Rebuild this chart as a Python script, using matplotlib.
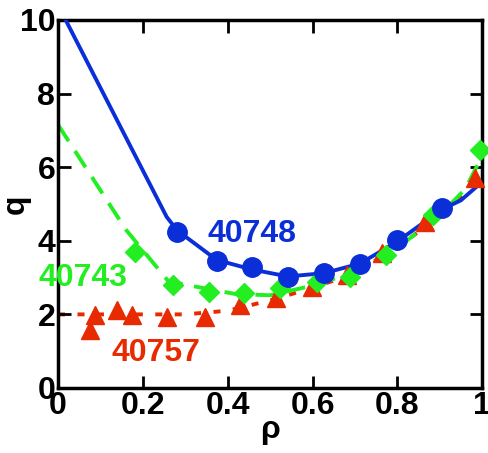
import matplotlib
matplotlib.use("Agg")
from matplotlib import pyplot as plt

# shot 40748 (blue)
x_40748 = [0.281, 0.374, 0.457, 0.542, 0.627, 0.712, 0.800, 0.905]
q_40748 = [4.23, 3.46, 3.28, 3.02, 3.12, 3.36, 4.02, 4.88]
fit_x_40748 = [0.0, 0.256, 0.281, 0.374, 0.457, 0.542, 0.627, 0.712, 0.800, 0.905, 0.95, 0.99]
fit_q_40748 = [10.4, 4.65, 4.28, 3.48, 3.22, 3.03, 3.12, 3.38, 3.98, 4.85, 5.1, 5.5]

# shot 40743 (green)
x_40743 = [0.182, 0.272, 0.355, 0.439, 0.524, 0.610, 0.689, 0.773, 0.885, 0.995]
q_40743 = [3.70, 2.80, 2.60, 2.58, 2.71, 2.89, 3.02, 3.61, 4.70, 6.47]
fit_x_40743 = [0.0, 0.16, 0.26, 0.34, 0.42, 0.50, 0.60, 0.70, 0.80, 0.90, 0.96, 1.0]
fit_q_40743 = [7.15, 4.3, 2.9, 2.72, 2.55, 2.52, 2.78, 3.15, 3.8, 4.7, 5.4, 6.3]

# shot 40757 (red)
x_40757 = [0.075, 0.087, 0.138, 0.174, 0.256, 0.347, 0.429, 0.514, 0.598, 0.681, 0.763, 0.866, 0.983]
q_40757 = [1.58, 1.98, 2.12, 1.98, 1.94, 1.94, 2.26, 2.45, 2.75, 3.07, 3.66, 4.52, 5.70]
fit_x_40757 = [0.0, 0.30, 0.40, 0.50, 0.60, 0.70, 0.80, 0.90, 0.95, 1.0]
fit_q_40757 = [2.0, 2.0, 2.1, 2.38, 2.72, 3.12, 3.8, 4.7, 5.2, 5.8]

blue = "#0a2ed8"
green = "#22ee22"
red = "#e82a00"

plt.rcParams['font.family'] = ['Liberation Sans', 'DejaVu Sans']
plt.rcParams['font.weight'] = 'bold'

fig = plt.figure(figsize=(4.88, 4.53), dpi=100)
ax = fig.add_axes([0.119, 0.1435, 0.869, 0.8125])

ax.plot(fit_x_40748, fit_q_40748, color=blue, lw=2.8, zorder=3)
ax.plot(fit_x_40743, fit_q_40743, color=green, lw=2.8, dashes=(5, 3), zorder=2)
ax.plot(fit_x_40757, fit_q_40757, color=red, lw=2.8, dashes=(1.8, 3.2), zorder=1)

ax.plot(x_40757, q_40757, ls='none', marker='^', ms=13, color=red, zorder=4, clip_on=False)
ax.plot(x_40743, q_40743, ls='none', marker='D', ms=10, color=green, zorder=5, clip_on=False)
ax.plot(x_40748, q_40748, ls='none', marker='o', ms=14, color=blue, zorder=6, clip_on=False)

ax.text(0.457, 4.18, "40748", color=blue, fontsize=23, fontweight='bold', ha='center', va='center')
ax.text(0.058, 2.98, "40743", color=green, fontsize=23, fontweight='bold', ha='center', va='center')
ax.text(0.231, 0.95, "40757", color=red, fontsize=23, fontweight='bold', ha='center', va='center')

ax.set_xlim(0, 1)
ax.set_ylim(0, 10)
ax.set_xticks([0, 0.2, 0.4, 0.6, 0.8, 1])
ax.set_xticklabels(["0", "0.2", "0.4", "0.6", "0.8", "1"])
ax.set_yticks([0, 2, 4, 6, 8, 10])
ax.tick_params(direction='in', length=9, width=2, labelsize=23, pad=2,
               top=True, right=True)
for lab in ax.get_xticklabels() + ax.get_yticklabels():
    lab.set_fontweight('bold')
for sp in ax.spines.values():
    sp.set_linewidth(2.5)

ax.set_xlabel("ρ", fontsize=23, fontweight='bold', labelpad=-4)
ax.set_ylabel("q", fontsize=23, fontweight='bold', labelpad=-8)

fig.savefig("out.png", dpi=100)
